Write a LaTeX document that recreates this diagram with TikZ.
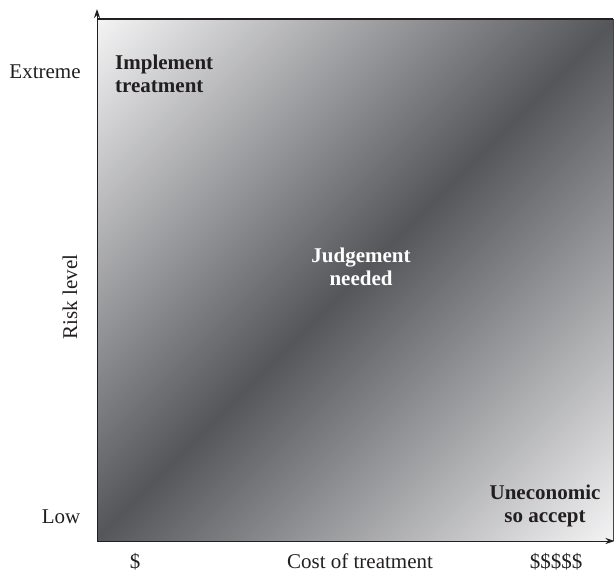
\documentclass[tikz,border=0pt]{standalone}
\usepackage{fontspec}
\setmainfont{Liberation Serif}
\usetikzlibrary{arrows.meta}
\definecolor{ink}{HTML}{231F20}
\definecolor{lightg}{HTML}{F3F3F4}
\definecolor{darkg}{HTML}{55565A}
\pgfdeclarehorizontalshading{diagshade}{100bp}{color(0bp)=(lightg); color(14.64bp)=(lightg); color(50bp)=(darkg); color(85.36bp)=(lightg); color(100bp)=(lightg)}
\begin{document}
\begin{tikzpicture}[x=1pt,y=1pt,
  lbl/.style={font=\fontsize{21}{23}\selectfont, text=ink, inner sep=0pt},
  blbl/.style={font=\fontsize{21}{23}\selectfont\bfseries, inner sep=0pt, align=center},
  axisline/.style={draw=ink, line width=1pt, -{Stealth[length=9pt,width=6pt]}}]
\useasboundingbox (0,0) rectangle (614,-574);
\coordinate (bl) at (97,-541);
\coordinate (tl) at (97,-19);
\coordinate (tr) at (613,-19);
\coordinate (br) at (613,-541);
\shade[shading=diagshade, shading angle=-45] (bl) rectangle (tr);
\draw[ink, line width=1.1pt] (tl) -- (tr);
\draw[darkg!80!black, line width=0.6pt] (tr) -- (br);
\coordinate (ytip) at (97,-9);
\coordinate (xtip) at (614.5,-541);
\draw[axisline] (bl) -- (ytip);
\draw[axisline] (bl) -- (xtip);
\node[lbl, anchor=base] (ext) at (45,-78) {Extreme};
\node[lbl, anchor=base] (low) at (61,-523) {Low};
\node[lbl, rotate=90, anchor=center] (risk) at (70,-297) {Risk level};
\node[lbl, anchor=base] (d1) at (135,-568) {\$};
\node[lbl, anchor=base] (cost) at (360,-568) {Cost of treatment};
\node[lbl, anchor=base] (d5) at (556,-568) {\$\$\$\$\$};
\node[blbl, text=ink, align=left, anchor=base west] (impl) at (115,-92) {Implement\\treatment};
\node[blbl, text=white, anchor=base] (judge) at (361,-285) {Judgement\\needed};
\node[blbl, text=ink, anchor=base] (unec) at (545,-522) {Uneconomic\\so accept};
\end{tikzpicture}
\end{document}
